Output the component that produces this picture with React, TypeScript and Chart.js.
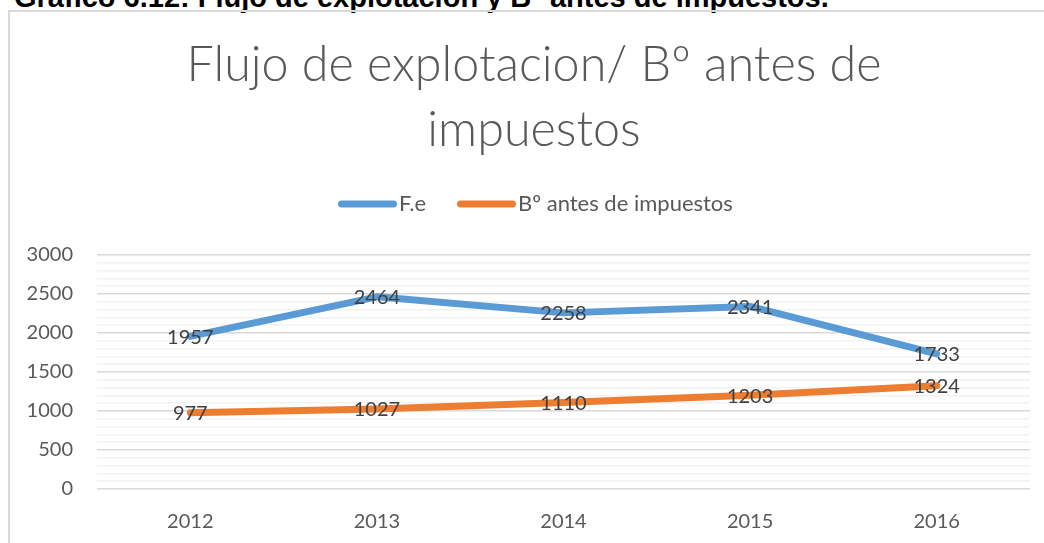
import React, { useEffect, useRef } from "react";
import { Chart, registerables } from "chart.js";

Chart.register(...registerables);

const years: string[] = ["2012", "2013", "2014", "2015", "2016"];
const flujoExplotacion: number[] = [1957, 2464, 2258, 2341, 1733];
const beneficioAntesImpuestos: number[] = [977, 1027, 1110, 1203, 1324];
const seriesNames: string[] = ["F.e", "Bº antes de impuestos"];
const titleLines: string[] = ["Flujo de explotacion/ Bº antes de", "impuestos"];
const caption = "Gráfico 6.12: Flujo de explotación y Bº antes de impuestos.";
const yTicks: number[] = [0, 500, 1000, 1500, 2000, 2500, 3000];

const BLUE = "#5B9BD5";
const ORANGE = "#ED7D31";
const TEXT = "#595959";
const FONT = "Lato, 'Open Sans', sans-serif";

const labelsPlugin = {
  id: "pointLabels",
  afterDatasetsDraw(chart: any) {
    const ctx = chart.ctx;
    ctx.save();
    ctx.font = `20px ${FONT}`;
    ctx.fillStyle = "#404040";
    ctx.textAlign = "center";
    ctx.textBaseline = "middle";
    chart.data.datasets.forEach((ds: any, i: number) => {
      const meta = chart.getDatasetMeta(i);
      meta.data.forEach((pt: any, j: number) => {
        ctx.fillText(String(ds.data[j]), pt.x, pt.y + 1);
      });
    });
    ctx.restore();
  },
};

const headerPlugin = {
  id: "header",
  afterDraw(chart: any) {
    const ctx = chart.ctx;
    ctx.save();
    ctx.fillStyle = TEXT;
    ctx.textAlign = "center";
    ctx.textBaseline = "alphabetic";
    ctx.font = `300 48.5px ${FONT}`;
    ctx.fillText(titleLines[0], 534, 81);
    ctx.fillText(titleLines[1], 534, 146);

    // legend
    const colors = [BLUE, ORANGE];
    const starts = [338, 457];
    ctx.font = `22px ${FONT}`;
    ctx.textAlign = "left";
    ctx.textBaseline = "middle";
    seriesNames.forEach((name, i) => {
      ctx.strokeStyle = colors[i];
      ctx.lineWidth = 7;
      ctx.lineCap = "round";
      ctx.beginPath();
      ctx.moveTo(starts[i] + 3.5, 204);
      ctx.lineTo(starts[i] + 59 - 3.5, 204);
      ctx.stroke();
      ctx.fillStyle = TEXT;
      ctx.fillText(name, starts[i] + 61, 204);
    });
    ctx.restore();
  },
};

export default function App() {
  const ref = useRef<HTMLCanvasElement | null>(null);

  useEffect(() => {
    if (!ref.current) return;
    const chart = new Chart(ref.current, {
      type: "line",
      data: {
        labels: years,
        datasets: [
          {
            label: seriesNames[0],
            data: flujoExplotacion,
            borderColor: BLUE,
            backgroundColor: BLUE,
            borderWidth: 7,
            borderCapStyle: "round",
            borderJoinStyle: "round",
            pointRadius: 0,
            tension: 0,
          },
          {
            label: seriesNames[1],
            data: beneficioAntesImpuestos,
            borderColor: ORANGE,
            backgroundColor: ORANGE,
            borderWidth: 7,
            borderCapStyle: "round",
            borderJoinStyle: "round",
            pointRadius: 0,
            tension: 0,
          },
        ],
      },
      options: {
        animation: false,
        responsive: false,
        devicePixelRatio: 1,
        layout: { padding: { top: 255, right: 14, left: 0, bottom: 0 } },
        plugins: {
          legend: { display: false },
          title: { display: false },
          tooltip: { enabled: false },
        },
        scales: {
          x: {
            offset: true,
            grid: { display: false, drawTicks: false },
            border: { display: false },
            ticks: {
              color: TEXT,
              font: { family: FONT, size: 20 },
              padding: 21,
            },
            afterFit(scale: any) {
              scale.height = 54;
            },
          },
          y: {
            min: 0,
            max: 3000,
            border: { display: false },
            grid: {
              drawTicks: false,
              color: (c: any) =>
                c.tick && yTicks.includes(c.tick.value) ? "#d9d9d9" : "#f2f2f2",
              lineWidth: 1.5,
            },
            ticks: {
              stepSize: 100,
              autoSkip: false,
              color: TEXT,
              font: { family: FONT, size: 20 },
              padding: 24,
              callback: (v: any) => (yTicks.includes(Number(v)) ? String(v) : ""),
            },
            afterFit(scale: any) {
              scale.width = 97;
            },
          },
        },
      },
      plugins: [labelsPlugin, headerPlugin],
    } as any);
    return () => chart.destroy();
  }, []);

  return (
    <div
      style={{
        position: "fixed",
        left: 0,
        top: 0,
        width: 1044,
        height: 543,
        overflow: "hidden",
        background: "#fff",
      }}
    >
      <div
        style={{
          position: "absolute",
          left: 14,
          top: -17,
          fontFamily: "'Liberation Sans', Arial, sans-serif",
          fontWeight: "bold",
          fontSize: 29,
          lineHeight: "29px",
          whiteSpace: "nowrap",
          color: "#000",
        }}
      >
        {caption}
      </div>
      <div
        style={{
          position: "absolute",
          left: 8,
          top: 10,
          width: 1100,
          height: 600,
          border: "2px solid #d9d9d9",
        }}
      />
      <canvas
        ref={ref}
        width={1044}
        height={543}
        style={{ position: "absolute", left: 0, top: 0 }}
      />
    </div>
  );
}
